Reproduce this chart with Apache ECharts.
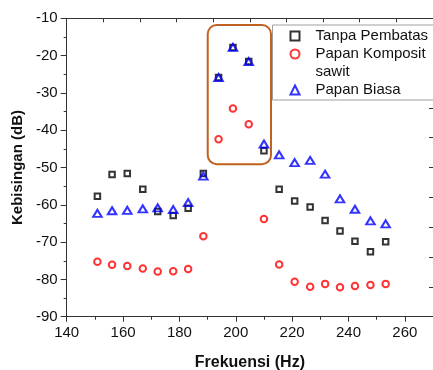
<!DOCTYPE html>
<html><head><meta charset="utf-8">
<script src="https://cdn.jsdelivr.net/npm/echarts@6/dist/echarts.min.js"></script>
<style>html,body{margin:0;padding:0;background:#fff}#c{width:433px;height:370px}</style>
</head><body><div id="c"></div>
<script>
// Frequency (Hz) of each measurement
const freq = [150.9,156.1,161.5,167.0,172.3,177.8,183.1,188.5,193.9,199.0,204.6,210.0,215.4,220.9,226.4,231.7,237.0,242.3,247.8,253.2];
// Noise level (dB)
const tanpa    = [-57.7,-51.9,-51.6,-55.8,-61.8,-62.9,-60.9,-51.6,-25.9,-17.8,-21.6,-45.5,-55.8,-59.0,-60.6,-64.2,-67.0,-69.8,-72.6,-69.9];
const komposit = [-75.3,-76.1,-76.4,-77.1,-77.9,-77.8,-77.2,-68.4,-42.4,-34.2,-38.4,-63.8,-76.0,-80.6,-82.0,-81.2,-82.1,-81.8,-81.5,-81.2];
const biasa    = [-62.3,-61.6,-61.5,-61.1,-60.8,-61.3,-59.4,-52.3,-25.9,-17.8,-21.6,-43.7,-46.6,-48.7,-48.1,-51.8,-58.4,-61.2,-64.3,-65.1];
const seriesNames = ['Tanpa Pembatas', 'Papan Komposit', 'sawit', 'Papan Biasa'];
// Highlight box (data coordinates): [xMin, yMax] .. [xMax, yMin]
const boxFrom = [190.05, -11.8];
const boxTo = [212.5, -49.1];

const pairs = (ys) => freq.map((f, i) => [f, ys[i]]);
const font = 'Liberation Sans, Arial, sans-serif';
const axisCol = '#333';

const chart = echarts.init(document.getElementById('c'), null, {renderer: 'canvas'});
chart.setOption({
  animation: false,
  backgroundColor: '#fff',
  grid: {left: 66.7, right: 0, top: 18.3, bottom: 53.3, containLabel: false, outerBoundsMode: 'none'},
  xAxis: [{
    type: 'value', min: 140, max: 270, interval: 20, position: 'bottom',
    name: 'Frekuensi (Hz)', nameLocation: 'middle', nameGap: 38,
    nameTextStyle: {fontFamily: font, fontSize: 16, fontWeight: 'bold', color: '#111'},
    axisLine: {show: true, onZero: false, lineStyle: {color: axisCol, width: 1}},
    axisTick: {show: true, inside: false, length: 5, lineStyle: {color: axisCol}},
    minorTick: {show: true, splitNumber: 2, length: 3, lineStyle: {color: axisCol}},
    axisLabel: {fontFamily: font, fontSize: 15, color: '#111', margin: 9, showMaxLabel: false},
    splitLine: {show: false}, minorSplitLine: {show: false}
  }, {
    type: 'value', min: 0, max: 10, interval: 1, position: 'top',
    axisLine: {show: true, onZero: false, lineStyle: {color: axisCol, width: 1}},
    axisTick: {show: true, inside: true, length: 4, lineStyle: {color: axisCol}},
    axisLabel: {show: false}, splitLine: {show: false}
  }],
  yAxis: [{
    type: 'value', min: -90, max: -10, interval: 10, position: 'left',
    name: 'Kebisingan (dB)', nameLocation: 'middle', nameGap: 37, nameRotate: 90,
    nameTextStyle: {fontFamily: font, fontSize: 15, fontWeight: 'bold', color: '#111'},
    axisLine: {show: true, onZero: false, lineStyle: {color: axisCol, width: 1}},
    axisTick: {show: true, inside: false, length: 6, lineStyle: {color: axisCol}},
    minorTick: {show: true, splitNumber: 2, length: 3, lineStyle: {color: axisCol}},
    axisLabel: {fontFamily: font, fontSize: 15, color: '#111', margin: 9},
    splitLine: {show: false}, minorSplitLine: {show: false}
  }, {
    type: 'value', min: 0, max: 10, interval: 1, position: 'right',
    axisLine: {show: true, onZero: false, lineStyle: {color: axisCol, width: 1}},
    axisTick: {show: true, inside: true, length: 4, lineStyle: {color: axisCol}},
    axisLabel: {show: false}, splitLine: {show: false}
  }],
  legend: {
    orient: 'vertical', left: 272.5, top: 25,
    padding: [2, 40, 1, 17], itemGap: 0, itemWidth: 9, itemHeight: 9,
    backgroundColor: '#fff', borderColor: '#a0a0a0', borderWidth: 1,
    textStyle: {fontFamily: font, fontSize: 15, color: '#111', lineHeight: 18, padding: [0, 0, 0, 11]},
    selectedMode: false,
    data: [seriesNames[0], seriesNames[1], {name: seriesNames[2], icon: 'none'}, seriesNames[3]]
  },
  series: [{
    name: seriesNames[0], type: 'scatter', data: pairs(tanpa),
    symbol: 'rect', symbolSize: 5.5,
    itemStyle: {color: 'rgba(0,0,0,0)', borderColor: '#000', borderWidth: 2}
  }, {
    name: seriesNames[1], type: 'scatter', data: pairs(komposit),
    symbol: 'circle', symbolSize: 6.5,
    itemStyle: {color: 'rgba(0,0,0,0)', borderColor: '#ff0000', borderWidth: 2}
  }, {
    name: seriesNames[2], type: 'scatter', data: [],
    itemStyle: {color: 'rgba(0,0,0,0)'}
  }, {
    name: seriesNames[3], type: 'scatter', data: pairs(biasa),
    symbol: 'triangle', symbolSize: [8.5, 7],
    itemStyle: {color: 'rgba(0,0,0,0)', borderColor: '#0000ff', borderWidth: 2}
  }]
});

const p1 = chart.convertToPixel({xAxisIndex: 0, yAxisIndex: 0}, boxFrom);
const p2 = chart.convertToPixel({xAxisIndex: 0, yAxisIndex: 0}, boxTo);
chart.setOption({
  graphic: [{
    type: 'rect', z: 50,
    shape: {x: p1[0], y: p1[1], width: p2[0] - p1[0], height: p2[1] - p1[1], r: 9},
    style: {fill: 'none', stroke: '#c0621f', lineWidth: 2}
  }]
});
</script></body></html>
